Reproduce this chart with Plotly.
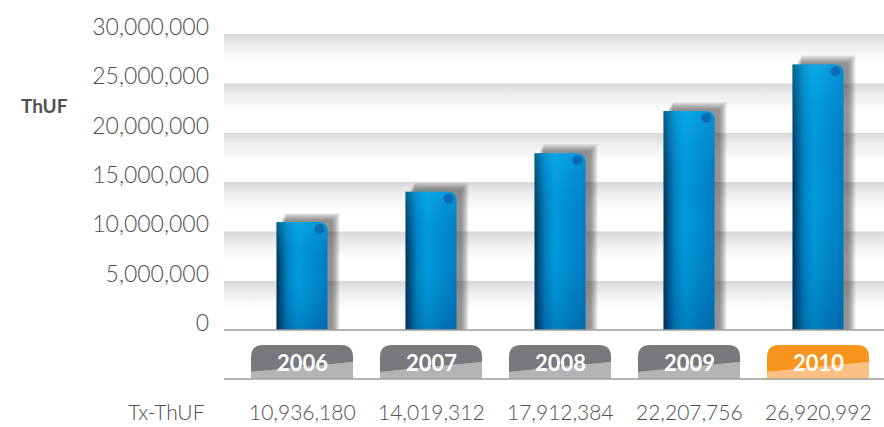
import numpy as np
import plotly.graph_objects as go

# ---- data ----
years = ["2006", "2007", "2008", "2009", "2010"]
values = [10936180, 14019312, 17912384, 22207756, 26920992]
y_ticks = [0, 5000000, 10000000, 15000000, 20000000, 25000000, 30000000]
highlight_year = "2010"
row_label = "Tx-ThUF"
axis_title = "ThUF"

# ---- geometry helpers (pixel -> data units) ----
W, H = 884, 427
ML, MR, MT, MB = 224, 0, 34, 97
plot_w = W - ML - MR
plot_h = H - MT - MB
px_per_cat = 129.0
first_center_px = 302.0
x_min = -(first_center_px - ML) / px_per_cat
x_max = x_min + plot_w / px_per_cat
y_max = 30000000
dx_px = 1.0 / px_per_cat
dy_px = y_max / plot_h


def py_to_paper(py):
    return (H - MB - py) / plot_h


fig = go.Figure()

# background bands: grey at the top of each 5M band, fading to white
for k in range(len(y_ticks) - 1):
    y0, y1 = y_ticks[k], y_ticks[k + 1]
    fig.add_trace(go.Scatter(
        x=[x_min, x_max, x_max, x_min, x_min],
        y=[y0, y0, y1, y1, y0],
        mode="lines", line=dict(width=0), fill="toself",
        fillgradient=dict(type="vertical", colorscale=[
            [0.0, "#ffffff"], [0.42, "#ffffff"], [0.72, "#f0f0f1"], [1.0, "#d8d8da"]]),
        hoverinfo="skip", showlegend=False))

bar_w = 51 * dx_px
rx, ry = 8 * dx_px, 8 * dy_px

for i, v in enumerate(values):
    xl, xr = i - bar_w / 2, i + bar_w / 2

    # soft drop shadow, offset up and to the right, blurred by stacking
    sx, sy = 5 * dx_px, 2 * dy_px
    for e in range(0, 8):
        ex, ey = e * dx_px, e * dy_px
        fig.add_trace(go.Scatter(
            x=[xl + sx + 0.6 * ex, xr + sx + ex, xr + sx + ex,
               xl + sx + 0.6 * ex, xl + sx + 0.6 * ex],
            y=[0, 0, v + sy + ey, v + sy + ey, 0],
            mode="lines", line=dict(width=0), fill="toself",
            fillcolor="rgba(50,50,54,0.09)", hoverinfo="skip", showlegend=False))

    # bar outline with a rounded top-right corner
    t = np.linspace(np.pi / 2, 0, 10)
    arc_x = list(xr - rx + rx * np.cos(t))
    arc_y = list(v - ry + ry * np.sin(t))
    bx = [xl, xl] + arc_x + [xr, xl]
    by = [0, v] + arc_y + [0, 0]
    fig.add_trace(go.Scatter(
        x=bx, y=by, mode="lines", line=dict(width=0), fill="toself",
        fillgradient=dict(type="horizontal", colorscale=[
            [0.0, "#00304f"], [0.07, "#004c78"], [0.22, "#0083c4"], [0.42, "#009ddd"],
            [0.6, "#0092d4"], [1.0, "#007cc2"]]),
        hoverinfo="skip", showlegend=False))
    # vertical shading: brighter at the top, deeper at the bottom
    fig.add_trace(go.Scatter(
        x=bx, y=by, mode="lines", line=dict(width=0), fill="toself",
        fillgradient=dict(type="vertical", colorscale=[
            [0.0, "rgba(0,40,100,0.25)"], [0.5, "rgba(0,100,180,0.0)"],
            [1.0, "rgba(20,190,250,0.35)"]]),
        hoverinfo="skip", showlegend=False))
    # small dot near the top-right corner
    fig.add_trace(go.Scatter(
        x=[xr - 8 * dx_px], y=[v - 7 * dy_px], mode="markers",
        marker=dict(size=10, color="#0b6cb3", line=dict(width=0)),
        hoverinfo="skip", showlegend=False))

# year tabs below the axis
pill_w = 102 * dx_px
pill_top = py_to_paper(345)
pill_bot = py_to_paper(379)
split_l = py_to_paper(372)
split_r = py_to_paper(362)
cr_x, cr_y = 12 * dx_px, 12 / plot_h
shapes = []
for i, yr in enumerate(years):
    xl, xr = i - pill_w / 2, i + pill_w / 2
    if yr == highlight_year:
        c_top, c_bot = "#f7941d", "#f9c084"
    else:
        c_top, c_bot = "#78797d", "#b3b4b6"
    top_path = (f"M {xl},{split_l} L {xl},{pill_top - cr_y} "
                f"Q {xl},{pill_top} {xl + cr_x},{pill_top} "
                f"L {xr - cr_x},{pill_top} Q {xr},{pill_top} {xr},{pill_top - cr_y} "
                f"L {xr},{split_r} Z")
    bot_path = (f"M {xl},{split_l} L {xr},{split_r} L {xr},{pill_bot} "
                f"L {xl},{pill_bot} Z")
    shapes.append(dict(type="path", xref="x", yref="paper", path=bot_path,
                       fillcolor=c_bot, line=dict(width=0), layer="above"))
    shapes.append(dict(type="path", xref="x", yref="paper", path=top_path,
                       fillcolor=c_top, line=dict(width=0), layer="above"))

# baseline and lower rule
for yp in (0.0, pill_bot):
    shapes.append(dict(type="line", xref="paper", yref="paper", x0=0, x1=1,
                       y0=yp, y1=yp, line=dict(color="#9c9c9e", width=1.5),
                       layer="above"))

label_font = dict(family="Lato", size=21, color="#4e4e50", weight=300)
annotations = []
for i, yr in enumerate(years):
    annotations.append(dict(x=i, y=py_to_paper(362), xref="x", yref="paper",
                            xanchor="center", yanchor="middle",
                            text=f"<b>{yr}</b>", showarrow=False,
                            font=dict(family="Lato", size=22, color="#ffffff")))
    annotations.append(dict(x=i, y=py_to_paper(411), xref="x", yref="paper",
                            xanchor="center", yanchor="middle",
                            text=f"{values[i]:,}", showarrow=False, font=label_font))
annotations.append(dict(x=(207 - ML) / plot_w, y=py_to_paper(411), xref="paper",
                        yref="paper", xanchor="right", yanchor="middle",
                        text=row_label, showarrow=False, font=label_font))
annotations.append(dict(x=(44 - ML) / plot_w, y=py_to_paper(106), xref="paper",
                        yref="paper", xanchor="center", yanchor="middle",
                        text=f"<b>{axis_title}</b>", showarrow=False,
                        font=dict(family="Lato", size=19, color="#505052")))

fig.update_layout(
    width=W, height=H,
    margin=dict(l=ML, r=MR, t=MT, b=MB, pad=0),
    paper_bgcolor="#ffffff", plot_bgcolor="#ffffff",
    showlegend=False,
    shapes=shapes, annotations=annotations,
    xaxis=dict(range=[x_min, x_max], visible=False, fixedrange=True),
    yaxis=dict(range=[0, y_max], tickvals=y_ticks,
               ticktext=[f"{t:,}" for t in y_ticks],
               showgrid=False, zeroline=False, showline=False, ticks="",
               ticklabelshift=-7, ticklabelstandoff=14,
               tickfont=dict(family="Lato", size=23, color="#4e4e50", weight=300),
               fixedrange=True),
)

fig.write_html("out.html")
